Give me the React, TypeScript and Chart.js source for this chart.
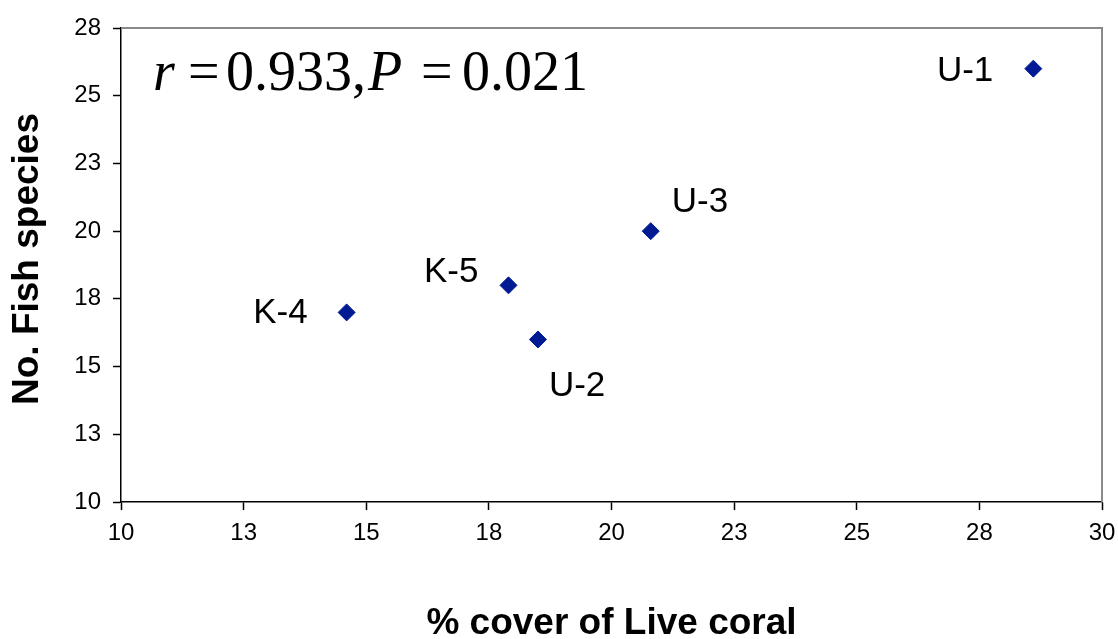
import React, { useEffect, useRef } from 'react';
import { Chart, registerables } from 'chart.js';

Chart.register(...registerables);

// ---- Data ----
const siteLabels = ['U-1', 'U-2', 'U-3', 'K-4', 'K-5'];
const liveCoralCover = [28.6, 18.5, 20.8, 14.6, 17.9];
const fishSpecies = [26, 16, 20, 17, 18];

const xMin = 10;
const xMax = 30;
const yMin = 10;
const yMax = 27.5;
const tickStep = 2.5;

const xTitle = '% cover of Live coral';
const yTitle = 'No. Fish species';

// statistic annotation pieces: [text, italic]
const statPieces: [string, boolean][] = [
  ['r', true],
  ['=', false],
  ['0.933,', false],
  ['P', true],
  ['=', false],
  ['0.021', false],
];
// left offset of each piece from the plot-area left edge (annotation layout)
const statOffsets = [32, 67, 105, 247, 300, 341];

// label placement relative to each marker (annotation layout)
const labelPlacement: { align: CanvasTextAlign; dx: number; dy: number }[] = [
  { align: 'right', dx: -40, dy: 3 },
  { align: 'left', dx: 11, dy: 47 },
  { align: 'left', dx: 21, dy: -29 },
  { align: 'right', dx: -39, dy: 1 },
  { align: 'right', dx: -30, dy: -13 },
];

const SANS = '"Liberation Sans", Arial, Helvetica, sans-serif';
const SERIF = '"Liberation Serif", "Times New Roman", Times, serif';
const MARKER = '#001A94';

const framePlugin = {
  id: 'frame',
  beforeDatasetsDraw(chart: any) {
    const { ctx, chartArea } = chart;
    ctx.save();
    ctx.strokeStyle = '#8a8a8a';
    ctx.lineWidth = 2;
    ctx.beginPath();
    ctx.moveTo(chartArea.left, chartArea.top);
    ctx.lineTo(chartArea.right, chartArea.top);
    ctx.lineTo(chartArea.right, chartArea.bottom);
    ctx.stroke();
    ctx.restore();
  },
};

const textPlugin = {
  id: 'texts',
  afterDatasetsDraw(chart: any) {
    const { ctx, chartArea } = chart;
    const meta = chart.getDatasetMeta(0);
    ctx.save();
    ctx.fillStyle = '#000';
    ctx.font = `35px ${SANS}`;
    ctx.textBaseline = 'middle';
    meta.data.forEach((pt: any, i: number) => {
      const p = labelPlacement[i];
      ctx.textAlign = p.align;
      ctx.fillText(siteLabels[i], pt.x + p.dx, pt.y + p.dy);
    });
    // statistic annotation
    ctx.textAlign = 'left';
    ctx.textBaseline = 'alphabetic';
    statPieces.forEach(([t, italic], i) => {
      ctx.font = `${italic ? 'italic ' : ''}56px ${SERIF}`;
      ctx.fillText(t, chartArea.left + statOffsets[i], chartArea.top + 62);
    });
    // y-axis title (slightly above the plot centre, as in the source)
    ctx.save();
    ctx.translate(28, (chartArea.top + chartArea.bottom) / 2 - 6);
    ctx.rotate(-Math.PI / 2);
    ctx.textAlign = 'center';
    ctx.textBaseline = 'middle';
    ctx.font = `bold 37px ${SANS}`;
    ctx.fillText(yTitle, 0, 0);
    ctx.restore();
    ctx.restore();
  },
};

export default function App() {
  const canvasRef = useRef<HTMLCanvasElement | null>(null);

  useEffect(() => {
    if (!canvasRef.current) return;
    const chart = new Chart(canvasRef.current, {
      type: 'scatter',
      data: {
        datasets: [
          {
            label: 'Sites',
            data: liveCoralCover.map((x, i) => ({ x, y: fishSpecies[i] })),
            pointStyle: 'rectRot',
            pointRadius: 8.5,
            pointHoverRadius: 8.5,
            backgroundColor: MARKER,
            borderColor: MARKER,
            borderWidth: 1,
          },
        ],
      },
      options: {
        animation: false,
        responsive: true,
        maintainAspectRatio: false,
        layout: { padding: { top: 28, right: 16, left: 0, bottom: 0 } },
        plugins: {
          legend: { display: false },
          tooltip: { enabled: false },
        },
        scales: {
          x: {
            type: 'linear',
            min: xMin,
            max: xMax,
            afterFit: (s: any) => {
              s.height = 137;
              s.paddingLeft = 0;
              s.paddingRight = 0;
            },
            ticks: {
              stepSize: tickStep,
              color: '#000',
              font: { family: SANS, size: 24 },
              padding: 9,
              maxRotation: 0,
              autoSkip: false,
              callback: (v: any) => String(Math.round(Number(v))),
            },
            grid: {
              drawOnChartArea: false,
              drawTicks: true,
              tickLength: 8,
              tickColor: '#000',
              tickWidth: 1.5,
            },
            border: { display: true, color: '#000', width: 1.5 },
            title: {
              display: true,
              text: xTitle,
              color: '#000',
              font: { family: SANS, size: 37, weight: 'bold', lineHeight: 1 },
              padding: { top: 0, bottom: -3 },
            },
          },
          y: {
            type: 'linear',
            min: yMin,
            max: yMax,
            afterFit: (s: any) => {
              s.width = 121;
            },
            ticks: {
              stepSize: tickStep,
              color: '#000',
              font: { family: SANS, size: 24 },
              padding: 12,
              autoSkip: false,
              callback: (v: any) => String(Math.round(Number(v))),
            },
            grid: {
              drawOnChartArea: false,
              drawTicks: true,
              tickLength: 8,
              tickColor: '#000',
              tickWidth: 1.5,
            },
            border: { display: true, color: '#000', width: 1.5 },
            title: { display: false },
          },
        },
      },
      plugins: [framePlugin, textPlugin],
    });
    return () => chart.destroy();
  }, []);

  return (
    <div
      style={{
        position: 'fixed',
        left: 0,
        top: 0,
        width: 1118,
        height: 639,
        background: '#fff',
      }}
    >
      <canvas ref={canvasRef} />
    </div>
  );
}
